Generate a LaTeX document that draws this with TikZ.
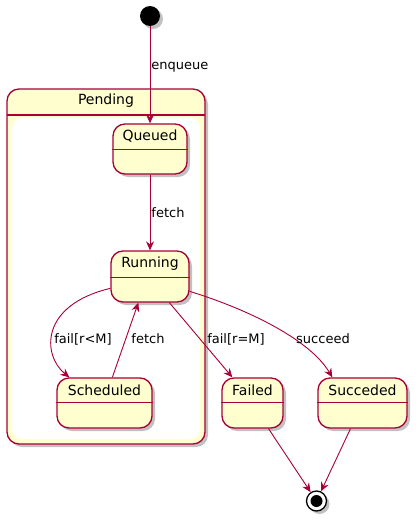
\documentclass[tikz,border=0pt]{standalone}
\usepackage{fontspec}
\setmainfont{DejaVu Sans}
\usetikzlibrary{shadows,calc,arrows.meta}
\definecolor{pborder}{HTML}{A80036}
\definecolor{pfill}{HTML}{FEFECE}
\tikzset{
  shad/.style={drop shadow={shadow xshift=3pt,shadow yshift=-3pt,opacity=0.35,fill=black!70}},
  stbox/.style={draw=pborder,fill=pfill,line width=1.3pt,rounded corners=12pt,shad,inner sep=0pt},
  stname/.style={font=\fontsize{14}{16}\selectfont,inner sep=0pt},
  lbl/.style={font=\fontsize{13}{15}\selectfont,inner sep=1pt},
  conn/.style={draw=pborder,line width=0.9pt,-{Stealth[length=9pt,width=8pt,inset=3pt]}},
  divl/.style={draw=pborder,line width=1.1pt}
}
\begin{document}
\begin{tikzpicture}[x=1pt,y=-1pt]
\useasboundingbox (0,0) rectangle (420,522);
% composite
\path[draw=pborder,fill=pfill,line width=1.3pt,rounded corners=12pt,shad] (7,89) rectangle (205,444);
\path[fill=white,rounded corners=10pt] (12,118) rectangle (200,439);
\draw[divl] (7,115) -- (205,115);
\node[stname] (pend) at (106,101) {Pending};
% start
\node[circle,fill=black,minimum size=20pt,inner sep=0pt,shad] (start) at (150,16) {};
% states
\node[stbox,minimum width=74pt,minimum height=50pt] (q) at (150,149) {};
\node[stname] (qt) at ($(q.north)+(0,13)$) {Queued};
\draw[divl] ($(q.north west)+(0,26)$) -- ($(q.north east)+(0,26)$);
\node[stbox,minimum width=78pt,minimum height=51pt] (r) at (150,276.5) {};
\node[stname] (rt) at ($(r.north)+(0,13)$) {Running};
\draw[divl] ($(r.north west)+(0,27)$) -- ($(r.north east)+(0,27)$);
\node[stbox,minimum width=95pt,minimum height=50pt] (s) at (104.5,403) {};
\node[stname] (st) at ($(s.north)+(0,13)$) {Scheduled};
\draw[divl] ($(s.north west)+(0,25)$) -- ($(s.north east)+(0,25)$);
\node[stbox,minimum width=61pt,minimum height=50pt] (f) at (252.5,403) {};
\node[stname] (ft) at ($(f.north)+(0,13)$) {Failed};
\draw[divl] ($(f.north west)+(0,25)$) -- ($(f.north east)+(0,25)$);
\node[stbox,minimum width=89pt,minimum height=50pt] (u) at (362.5,403) {};
\node[stname] (ut) at ($(u.north)+(0,13)$) {Succeded};
\draw[divl] ($(u.north west)+(0,25)$) -- ($(u.north east)+(0,25)$);
% end
\node[circle,draw=black,line width=1.3pt,fill=white,minimum size=20pt,inner sep=0pt,shad] (fin) at (316.5,501) {};
\node[circle,fill=black,minimum size=12pt,inner sep=0pt] (finin) at (fin.center) {};
% connectors
\draw[conn] (start) -- node[lbl,right,pos=0.42] (l1) {enqueue} (q);
\draw[conn] (q) -- node[lbl,right,pos=0.5] (l2) {fetch} (r);
\draw[conn] ($(r.north west)+(0,38)$) .. controls (40,305) and (42,355) .. ($(s.north west)+(13,0)$);
\node[lbl] (l3) at (83,339) {fail[r<M]};
\draw[conn] ($(s.north west)+(56,0)$) -- ($(r.south west)+(28,0)$);
\node[lbl] (l4) at (148,339) {fetch};
\draw[conn] ($(r.south west)+(59,0)$) -- ($(f.north west)+(11,0)$);
\node[lbl] (l5) at (236,339) {fail[r=M]};
\draw[conn] ($(r.north east)+(0,41)$) .. controls (250,310) and (310,340) .. ($(u.north west)+(15,0)$);
\node[lbl] (l6) at (323,339) {succeed};
\draw[conn] ($(f.south)+(16,0)$) -- (fin);
\draw[conn] ($(u.south)+(-12,0)$) -- (fin);
\end{tikzpicture}
\end{document}
